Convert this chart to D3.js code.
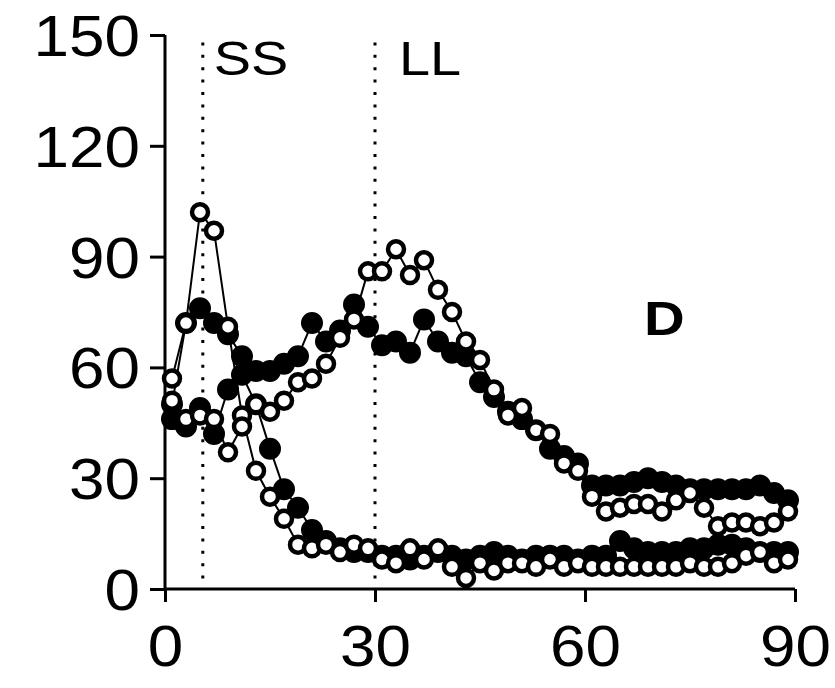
<!DOCTYPE html>
<html><head><meta charset="utf-8">
<script src="https://cdn.jsdelivr.net/npm/d3@7"></script>
<style>body{margin:0;background:#fff}svg{display:block}</style>
</head><body>
<svg id="c" width="835" height="688"></svg>
<script>
const xVals = [1,3,5,7,9,11,13,15,17,19,21,23,25,27,29,31,33,35,37,39,41,43,45,47,49,51,53,55,57,59,61,63,65,67,69,71,73,75,77,79,81,83,85,87,89];
const openSS = [57,72,102,97,71,47,32,25,19,12,11,12,10,12,11,8,7,11,8,11,6,3,7,5,7,7,6,8,6,7,6,6,6,6,6,6,6,7,6,6,7,9,10,7,8];
const openLL = [51,46,47,46,37,44,50,48,51,56,57,61,68,73,86,86,92,85,89,81,75,67,62,54,47,49,43,42,34,32,25,21,22,23,23,21,24,26,22,17,18,18,17,18,21];
const filledSS = [46,44,49,42,54,58,50,38,27,22,16,13,11,10,10,9,9,8,9,10,9,8,9,10,9,8,9,9,9,8,9,9,13,11,10,10,10,11,11,12,12,11,10,10,10];
const filledLL = [50,72,76,72,69,63,59,59,61,63,72,67,70,77,71,66,67,64,73,67,64,63,56,52,48,46,43,38,36,34,28,28,28,29,30,29,28,27,27,27,27,27,28,26,24];
const xTicks = [0,30,60,90];
const yTicks = [0,30,60,90,120,150];
const markerLines = [{x:5.4,label:"SS"},{x:30,label:"LL"}];
const panelLabel = "D";

const svg = d3.select("#c");
const x = d3.scaleLinear().domain([0,90]).range([165,795]);
const y = d3.scaleLinear().domain([0,150]).range([589,35]);
const font = "'Liberation Sans', Arial, sans-serif";
const sx = 1.12;
const labelOffsets = [11, 24];

// dotted reference lines
markerLines.forEach((m,i)=>{
  svg.append("line").attr("x1",x(m.x)).attr("x2",x(m.x)).attr("y1",y(148)).attr("y2",y(0))
    .attr("stroke","#000").attr("stroke-width",3).attr("stroke-dasharray","3,9.4");
  const tx = x(m.x) + labelOffsets[i];
  svg.append("text").attr("x",tx/1.14).attr("y",75).attr("transform","scale(1.14,1)").text(m.label)
    .attr("font-family",font).attr("font-size",49).attr("fill","#000");
});

// axes
const yAxis = d3.axisLeft(y).tickValues(yTicks).tickSize(15).tickPadding(10).tickFormat(d3.format("d"));
const xAxis = d3.axisBottom(x).tickValues(xTicks).tickSize(13).tickPadding(20).tickFormat(d3.format("d"));
const gy = svg.append("g").attr("transform","translate(165,0)").call(yAxis);
const gx = svg.append("g").attr("transform","translate(0,589)").call(xAxis);
[gx,gy].forEach(g=>{
  g.select(".domain").attr("stroke","#000").attr("stroke-width",3);
  g.selectAll(".tick line").attr("stroke","#000").attr("stroke-width",3);
  g.selectAll(".tick text").attr("font-family",font).attr("font-size",57).attr("fill","#000")
    .attr("transform",`scale(${sx},1)`);
});
gy.selectAll(".tick text").attr("x",-25/sx).attr("dy","0.36em");
gx.selectAll(".tick text").attr("y",77).attr("dy",0);
gx.select(".domain").attr("d","M165,0H795");
gy.select(".domain").attr("d","M0,35V589");

// series
const series = [
  {vals:filledSS, open:false},
  {vals:filledLL, open:false},
  {vals:openSS, open:true},
  {vals:openLL, open:true}
];
const line = d3.line().x(d=>x(d[0])).y(d=>y(d[1]));
series.forEach(s=>{
  s.pts = xVals.map((xv,i)=>[xv,s.vals[i]]);
  svg.append("path").attr("d",line(s.pts)).attr("fill","none").attr("stroke","#000").attr("stroke-width",2);
});
series.forEach(s=>{
  svg.append("g").selectAll("circle").data(s.pts).join("circle")
    .attr("cx",d=>x(d[0])).attr("cy",d=>y(d[1]))
    .attr("r",s.open?8:9.5)
    .attr("fill",s.open?"#fff":"#000")
    .attr("stroke","#000").attr("stroke-width",s.open?4.5:3);
});

svg.append("text").attr("x",644/1.15).attr("y",335).attr("transform","scale(1.15,1)").text(panelLabel)
  .attr("font-family",font).attr("font-size",49).attr("font-weight","bold").attr("fill","#000");
</script>
</body></html>
